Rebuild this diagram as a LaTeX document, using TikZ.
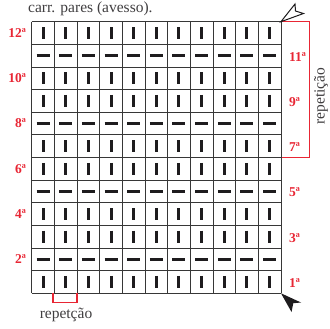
\documentclass[tikz,border=0pt]{standalone}
\usepackage{fontspec}
\setmainfont{Liberation Serif}
\definecolor{labred}{RGB}{232,38,52}
\definecolor{gridc}{RGB}{55,55,55}
\definecolor{ink}{RGB}{30,28,30}
\tikzset{
  gridline/.style={draw=gridc, line width=0.9pt},
  stitch/.style={draw=ink, line width=3pt},
  rowlab/.style={text=labred, font=\fontsize{13.5}{13.5}\selectfont\bfseries, inner sep=0pt},
  bracket/.style={draw=labred, line width=1.1pt},
  plain/.style={font=\fontsize{15.5}{15.5}\selectfont, text=ink!85, inner sep=0pt},
}
\begin{document}
\begin{tikzpicture}[x=1pt,y=-1pt]
\useasboundingbox (0,0) rectangle (330,329);
\def\L{31.7}\def\T{21.7}\def\w{22.66}\def\h{22.63}
\coordinate (tr) at ({\L+11*\w},\T);
\coordinate (br) at ({\L+11*\w},{\T+12*\h});
\coordinate (mr) at ({\L+11*\w},{\T+6*\h});
\coordinate (rt) at (309.5,\T);
% right repetition bracket
\draw[bracket] (tr) -- (rt) |- (mr);
% grid
\foreach \i in {0,...,11} \draw[gridline] ({\L+\i*\w},\T) -- ({\L+\i*\w},{\T+12*\h});
\foreach \j in {0,...,12} \draw[gridline] (\L,{\T+\j*\h}) -- ({\L+11*\w},{\T+\j*\h});
% stitches: rows numbered from bottom
\foreach \r/\t in {1/v,2/h,3/v,4/v,5/h,6/v,7/v,8/h,9/v,10/v,11/h,12/v}{
  \foreach \c in {1,...,11}{
    \pgfmathsetmacro{\cx}{\L+(\c-0.5)*\w}
    \pgfmathsetmacro{\cy}{\T+(12-\r+0.5)*\h}
    \if\t v
      \draw[stitch] (\cx,\cy-6) -- (\cx,\cy+6);
    \else
      \draw[stitch] (\cx-6.5,\cy) -- (\cx+6.5,\cy);
    \fi
  }
}
% row labels
\foreach \r in {2,4,...,12}{
  \pgfmathsetmacro{\cy}{\T+(12-\r+0.5)*\h}
  \node[rowlab, anchor=east] (l\r) at (26,\cy) {\r ª};
}
\foreach \r in {1,3,...,11}{
  \pgfmathsetmacro{\cy}{\T+(12-\r+0.5)*\h}
  \node[rowlab, anchor=west] (l\r) at (289,\cy+1) {\r ª};
}
\node[plain, rotate=90] (rep1) at (321,96) {repetição};
% bottom repetition bracket
\draw[bracket] (53,{\T+12*\h}) -- (53,302.7) -- (77,302.7) -- (77,{\T+12*\h});
\node[plain] (rep2) at (66,315) {repetção};
% top text
\node[plain, anchor=west] (top) at (28,9) {carr. pares (avesso).};
% arrows
\draw[ink, line width=1pt, fill=white, line join=miter] (tr) -- (295,4) -- (295.5,11) -- (303.5,13.5) -- cycle;
\fill[ink] (br) -- (291.5,312) -- (293.3,303.2) -- (301,302.5) -- cycle;
\end{tikzpicture}
\end{document}
